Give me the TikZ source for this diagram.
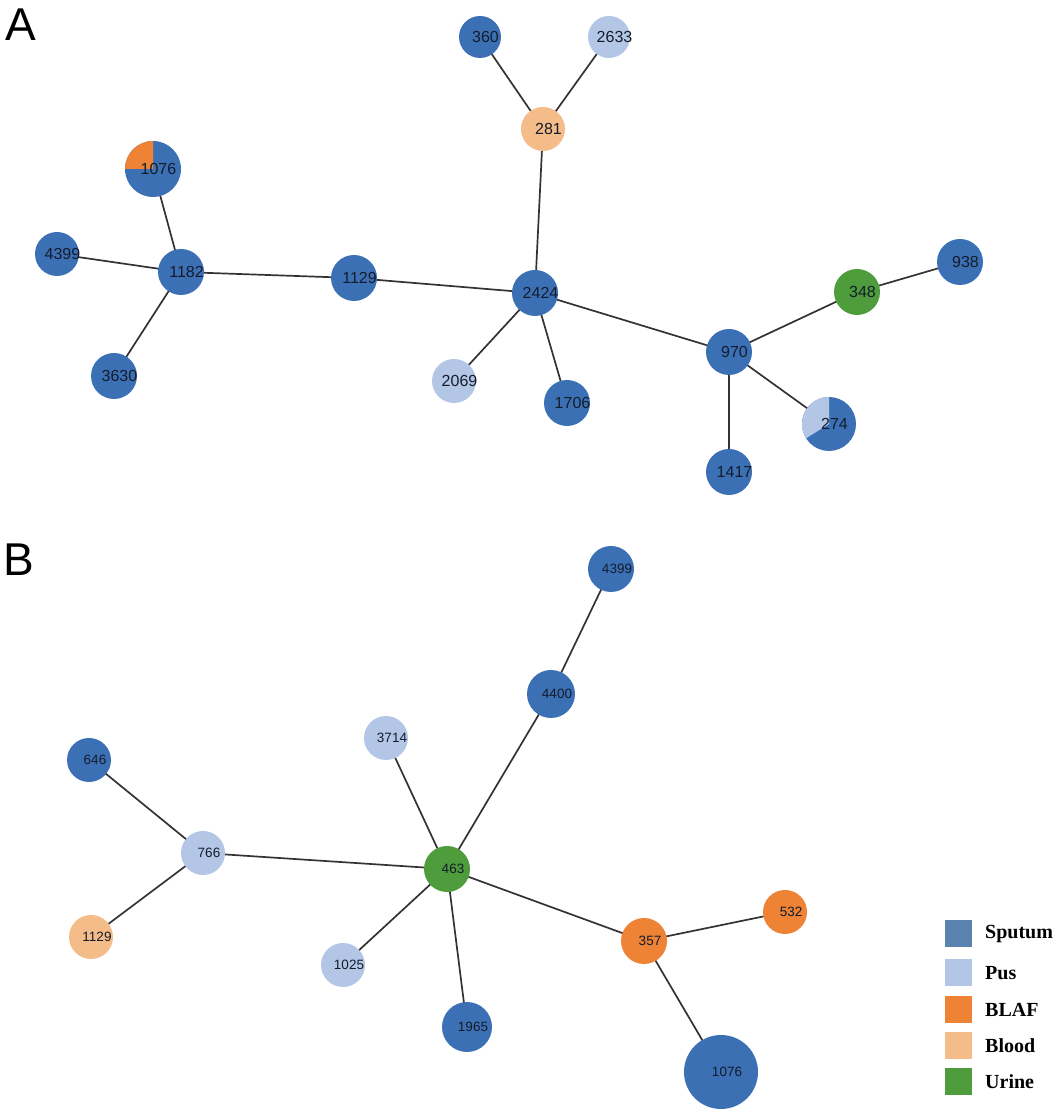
\documentclass[tikz,border=0pt]{standalone}
\usepackage{fontspec}
\setmainfont{Liberation Serif}
\setsansfont{Liberation Sans}
\usetikzlibrary{backgrounds}
\definecolor{sput}{HTML}{3C70B4}
\definecolor{sputleg}{HTML}{5A82AE}
\definecolor{pus}{HTML}{B3C6E6}
\definecolor{blaf}{HTML}{EE8235}
\definecolor{blood}{HTML}{F4BC88}
\definecolor{urine}{HTML}{4F9C3C}
\definecolor{edgec}{HTML}{333333}
\definecolor{labc}{HTML}{141C2C}
\tikzset{
  nd/.style={circle, inner sep=0pt},
  la/.style={inner sep=0pt, xshift=5.5pt, text=labc, font=\sffamily\fontsize{16}{16}\selectfont},
  lb/.style={inner sep=0pt, xshift=6pt, text=labc, font=\sffamily\fontsize{13.5}{13.5}\selectfont},
  ed/.style={draw=edgec, line width=1.7pt},
  legsq/.style={minimum size=27pt, inner sep=0pt},
  legtx/.style={anchor=west, inner sep=0pt, font=\bfseries\fontsize{20}{20}\selectfont},
  panel/.style={inner sep=0pt, font=\sffamily\fontsize{46}{46}\selectfont}
}
\begin{document}
\begin{tikzpicture}[x=1pt,y=1pt]
\useasboundingbox (0,0) rectangle (1063,1115);
% Panel labels
\node[panel] (lA) at (21,1090) {A};
\node[panel] (lB) at (19,555) {B};
% ---------- Panel A ----------
\fill[sput] (153,946) circle (28);
\fill[blaf] (153,946) -- ++(90:28) arc[start angle=90, end angle=180, radius=28] -- cycle;
\fill[sput] (829,691) circle (27);
\fill[pus] (829,691) -- ++(90:27) arc[start angle=90, end angle=212, radius=27] -- cycle;
\node[nd, fill=sput, minimum size=42pt, label={[la]center:360}] (a360) at (480,1078) {};
\node[nd, fill=pus, minimum size=42pt, label={[la]center:2633}] (a2633) at (609,1078) {};
\node[nd, fill=blood, minimum size=44pt, label={[la]center:281}] (a281) at (543,986) {};
\node[nd, minimum size=56pt, label={[la]center:1076}] (a1076) at (153,946) {};
\node[nd, fill=sput, minimum size=44pt, label={[la]center:4399}] (a4399) at (57,861) {};
\node[nd, fill=sput, minimum size=46pt, label={[la]center:1182}] (a1182) at (181,843) {};
\node[nd, fill=sput, minimum size=46pt, label={[la]center:1129}] (a1129) at (354,837) {};
\node[nd, fill=sput, minimum size=46pt, label={[la]center:2424}] (a2424) at (535,822) {};
\node[nd, fill=urine, minimum size=46pt, label={[la]center:348}] (a348) at (857,823) {};
\node[nd, fill=sput, minimum size=46pt, label={[la]center:938}] (a938) at (960,853) {};
\node[nd, fill=sput, minimum size=46pt, label={[la]center:970}] (a970) at (729,763) {};
\node[nd, fill=sput, minimum size=46pt, label={[la]center:3630}] (a3630) at (114,739) {};
\node[nd, fill=pus, minimum size=44pt, label={[la]center:2069}] (a2069) at (454,734) {};
\node[nd, fill=sput, minimum size=46pt, label={[la]center:1706}] (a1706) at (567,712) {};
\node[nd, minimum size=54pt, label={[la]center:274}] (a274) at (829,691) {};
\node[nd, fill=sput, minimum size=46pt, label={[la]center:1417}] (a1417) at (729,643) {};
% ---------- Panel B ----------
\node[nd, fill=sput, minimum size=46pt, label={[lb]center:4399}] (b4399) at (611,546) {};
\node[nd, fill=sput, minimum size=48pt, label={[lb]center:4400}] (b4400) at (551,421) {};
\node[nd, fill=pus, minimum size=44pt, label={[lb]center:3714}] (b3714) at (386,377) {};
\node[nd, fill=sput, minimum size=44pt, label={[lb]center:646}] (b646) at (89,355) {};
\node[nd, fill=pus, minimum size=44pt, label={[lb]center:766}] (b766) at (203,262) {};
\node[nd, fill=urine, minimum size=46pt, label={[lb]center:463}] (b463) at (447,246) {};
\node[nd, fill=blaf, minimum size=44pt, label={[lb]center:532}] (b532) at (785,203) {};
\node[nd, fill=blaf, minimum size=46pt, label={[lb]center:357}] (b357) at (644,174) {};
\node[nd, fill=blood, minimum size=44pt, label={[lb]center:1129}] (b1129) at (91,178) {};
\node[nd, fill=pus, minimum size=44pt, label={[lb]center:1025}] (b1025) at (343,150) {};
\node[nd, fill=sput, minimum size=50pt, label={[lb]center:1965}] (b1965) at (467,88) {};
\node[nd, fill=sput, minimum size=74pt, label={[lb]center:1076}] (b1076) at (721,43) {};
% ---------- Edges ----------
\begin{pgfonlayer}{background}
\draw[ed] (a360.center) -- (a281.center);
\draw[ed] (a2633.center) -- (a281.center);
\draw[ed] (a281.center) -- (a2424.center);
\draw[ed] (a1076.center) -- (a1182.center);
\draw[ed] (a4399.center) -- (a1182.center);
\draw[ed] (a3630.center) -- (a1182.center);
\draw[ed] (a1182.center) -- (a1129.center);
\draw[ed] (a1129.center) -- (a2424.center);
\draw[ed] (a2424.center) -- (a2069.center);
\draw[ed] (a2424.center) -- (a1706.center);
\draw[ed] (a2424.center) -- (a970.center);
\draw[ed] (a970.center) -- (a348.center);
\draw[ed] (a348.center) -- (a938.center);
\draw[ed] (a970.center) -- (a274.center);
\draw[ed] (a970.center) -- (a1417.center);
\draw[ed] (b4399.center) -- (b4400.center);
\draw[ed] (b4400.center) -- (b463.center);
\draw[ed] (b3714.center) -- (b463.center);
\draw[ed] (b646.center) -- (b766.center);
\draw[ed] (b766.center) -- (b463.center);
\draw[ed] (b1129.center) -- (b766.center);
\draw[ed] (b1025.center) -- (b463.center);
\draw[ed] (b1965.center) -- (b463.center);
\draw[ed] (b463.center) -- (b357.center);
\draw[ed] (b357.center) -- (b532.center);
\draw[ed] (b357.center) -- (b1076.center);
\end{pgfonlayer}
% ---------- Legend ----------
\node[legsq, fill=sputleg] (lg1) at (958,181) {};
\node[legtx] (lt1) at (985,181) {Sputum};
\node[legsq, fill=pus] (lg2) at (958,142) {};
\node[legtx] (lt2) at (985,142) {Pus};
\node[legsq, fill=blaf] (lg3) at (958,105) {};
\node[legtx] (lt3) at (985,105) {BLAF};
\node[legsq, fill=blood] (lg4) at (958,69) {};
\node[legtx] (lt4) at (985,69) {Blood};
\node[legsq, fill=urine] (lg5) at (958,33) {};
\node[legtx] (lt5) at (985,33) {Urine};
\end{tikzpicture}
\end{document}
